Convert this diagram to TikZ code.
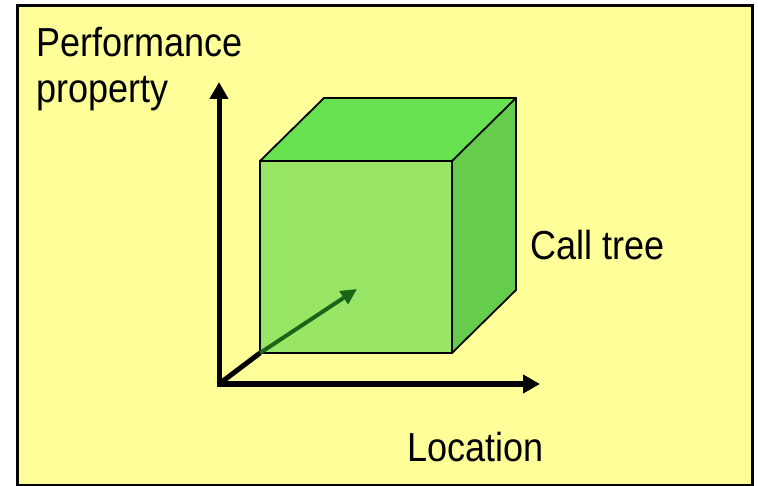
\documentclass[tikz,border=0pt]{standalone}
\usepackage{fontspec}
\setmainfont{Liberation Sans}[FakeStretch=0.89]
\usetikzlibrary{arrows.meta}
\definecolor{bgyellow}{RGB}{255,255,153}
\definecolor{frontgreen}{RGB}{153,230,102}
\definecolor{topgreen}{RGB}{102,226,80}
\definecolor{sidegreen}{RGB}{102,204,76}
\definecolor{arrowgreen}{RGB}{26,102,25}
\tikzset{
  axis/.style={line width=5pt, -{Triangle[length=17pt,width=18pt]}},
  face/.style={draw=black, line width=1.8pt, line join=miter},
  lbl/.style={anchor=base west, inner sep=0pt, font=\fontsize{40.5}{46}\selectfont}
}
\begin{document}
\begin{tikzpicture}[x=1pt,y=-1pt]
\useasboundingbox (0,0) rectangle (758,486);
\draw[fill=bgyellow, line width=3pt] (17,6) rectangle (752,485);
% cube corners
\coordinate (f1) at (260,161);
\coordinate (f2) at (452,161);
\coordinate (f3) at (452,353);
\coordinate (f4) at (260,353);
\coordinate (b1) at (324,98);
\coordinate (b2) at (516,98);
\coordinate (b3) at (516,290);
\fill[frontgreen] (f1) -- (f2) -- (f3) -- (f4) -- cycle;
\fill[topgreen] (f1) -- (b1) -- (b2) -- (f2) -- cycle;
\fill[sidegreen] (f2) -- (b2) -- (b3) -- (f3) -- cycle;
\draw[face] (f1) -- (b1) -- (b2) -- (b3) -- (f3) -- (f4) -- cycle;
\draw[face] (f1) -- (f2) -- (f3);
\draw[face] (f2) -- (b2);
% axes
\coordinate (o) at (219,384);
\coordinate (ytip) at (219,82);
\coordinate (xtip) at (540,384);
\coordinate (ztip) at (357,289);
\draw[line width=5pt] (o) -- (f4);
\draw[line width=4pt, arrowgreen, -{Triangle[length=16pt,width=15pt]}] (f4) -- (ztip);
\draw[axis] ([yshift=2.5pt]o) -- (ytip);
\draw[axis] ([xshift=-2.5pt]o) -- (xtip);
% labels
\node[lbl] (perf) at (36,57) {Performance};
\node[lbl] (prop) at (36,103) {property};
\node[lbl] (call) at (530,260) {Call tree};
\node[lbl] (loc) at (407,461) {Location};
\end{tikzpicture}
\end{document}
